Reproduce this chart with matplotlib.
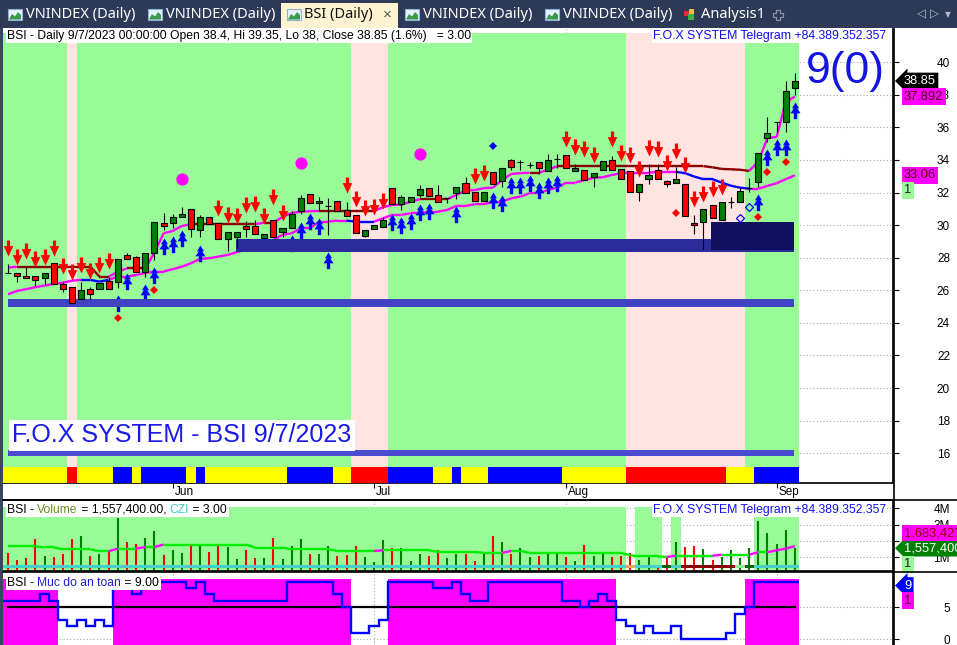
import numpy as np
import matplotlib.pyplot as plt
from matplotlib.patches import Rectangle, Polygon
from matplotlib.path import Path
from matplotlib.collections import LineCollection
from matplotlib.transforms import blended_transform_factory

plt.rcParams['font.family'] = ['Liberation Sans', 'DejaVu Sans']

# daily bars of BSI, 8 May .. 7 Sep 2023 (87 sessions)
opens = [27.08, 27.07, 26.9, 26.9, 26.74, 27.66, 26.37, 26.19, 25.45, 26.07,
         26.07, 26.56, 26.5, 28.15, 28.03, 27.11, 28.27, 30.12, 30.12, 30.48,
         30.98, 29.7, 30.52, 30.12, 29.13, 29.26, 29.95, 29.95, 29.2, 30.32,
         29.6, 29.81, 30.89, 31.9, 31.34, 31.15, 31.47, 30.93, 30.61, 29.36,
         29.75, 29.9, 32.27, 31.28, 31.44, 31.85, 32.28, 31.85, 31.68, 32.0,
         32.59, 32.02, 31.5, 33.25, 32.73, 33.98, 33.86, 33.69, 33.86, 33.35,
         34.05, 34.29, 33.35, 33.37, 32.98, 33.41, 34.0, 33.43, 33.33, 32.06,
         32.82, 33.37, 32.69, 32.57, 32.51, 30.15, 30.18, 31.22, 30.3, 31.43,
         31.44, 32.28, 32.67, 35.37, 36.34, 36.35, 38.4]
highs = [27.62, 27.07, 27.43, 26.9, 27.08, 27.66, 26.53, 26.19, 26.53, 26.22,
         26.43, 26.84, 27.91, 28.27, 28.09, 28.27, 30.18, 30.73, 30.67, 31.1,
         30.98, 30.64, 30.52, 30.12, 29.6, 29.57, 30.26, 30.32, 29.44, 30.32,
         29.81, 30.87, 31.85, 31.9, 31.71, 31.65, 31.47, 31.42, 30.61, 29.69,
         30.0, 30.49, 32.27, 31.84, 31.71, 32.47, 32.28, 32.47, 31.69, 32.33,
         32.94, 32.02, 32.02, 33.25, 33.49, 34.06, 34.0, 33.9, 33.86, 34.35,
         34.37, 34.29, 33.74, 33.37, 33.19, 33.92, 34.25, 33.43, 33.33, 32.51,
         33.74, 33.74, 32.78, 33.59, 32.51, 30.63, 30.98, 31.22, 31.41, 31.73,
         32.3, 32.92, 34.41, 36.62, 36.35, 38.85, 39.35]
lows = [27.05, 26.53, 26.74, 26.27, 26.33, 26.41, 25.9, 25.2, 25.45, 25.45,
        26.07, 26.07, 26.16, 27.91, 27.11, 26.84, 27.86, 29.7, 29.81, 30.48,
        29.27, 29.3, 30.06, 29.13, 28.43, 28.58, 29.26, 29.44, 29.2, 29.26,
        29.26, 29.81, 30.69, 31.34, 30.87, 29.4, 30.89, 30.58, 29.5, 29.26,
        29.75, 29.9, 31.28, 30.93, 31.44, 31.75, 31.81, 31.41, 31.34, 31.6,
        32.0, 31.5, 31.5, 32.53, 32.33, 33.41, 33.41, 33.5, 33.14, 33.35,
        33.5, 33.53, 33.35, 32.77, 32.36, 33.41, 33.39, 32.82, 32.02, 31.49,
        32.51, 32.82, 32.33, 32.57, 30.55, 29.44, 28.56, 30.42, 30.3, 31.04,
        31.44, 32.05, 32.36, 35.13, 35.74, 35.74, 38.0]
closes = [27.06, 26.9, 26.74, 26.64, 27.08, 26.41, 26.06, 25.2, 26.02, 25.76,
          26.43, 26.07, 27.91, 27.91, 27.11, 28.27, 30.18, 29.93, 30.48, 30.67,
          29.75, 30.52, 30.06, 29.13, 29.6, 29.57, 29.79, 29.44, 29.44, 29.26,
          29.81, 30.67, 31.65, 31.34, 31.49, 31.16, 30.89, 30.58, 29.5, 29.69,
          30.0, 30.32, 31.28, 31.71, 31.71, 32.22, 31.81, 31.41, 31.69, 32.33,
          32.0, 31.5, 32.02, 32.53, 33.49, 33.59, 33.87, 33.7, 33.49, 33.98,
          34.06, 33.53, 33.5, 32.77, 33.19, 33.92, 33.39, 32.82, 32.02, 32.51,
          33.06, 32.82, 32.51, 32.82, 30.55, 30.0, 30.98, 30.42, 31.41, 31.44,
          32.1, 32.3, 34.41, 35.66, 36.35, 38.24, 38.85]

trend_line = [27.39] + [27.45] * 9 + [26.84, 26.84, 27.13, 27.35, 27.35, 27.35,
              28.3, 29.5, 29.64, 29.95] + [30.06] * 8 + [30.15, 30.15, 30.5, 30.75,
              30.83, 30.85, 30.87] + [30.87] * 6 + [31.1, 31.24, 31.26, 31.44, 31.59,
              31.59, 31.59, 31.59, 31.85, 32.12, 32.15, 32.27, 32.3, 32.77, 33.14,
              33.19, 33.22, 33.22, 33.39, 33.62] + [33.62] * 16 + [33.55, 33.45,
              33.43, 33.4, 33.33, 33.9, 35.35, 35.41, 37.56, 37.892]
stop_line = [25.76, 25.96, 26.07, 26.19, 26.29, 26.39, 26.47, 26.59, 26.64, 26.64,
             26.53, 26.64, 26.84, 26.84, 26.94, 27.06, 27.15, 27.15, 27.3, 27.45,
             27.66, 27.93, 27.97, 28.07, 28.17, 28.34, 28.5, 28.7, 28.9, 29.1,
             29.4, 29.5, 29.81, 29.81, 30.21, 30.21, 30.28, 30.28, 30.21, 30.21,
             30.21, 30.42, 30.63, 30.63, 30.73, 30.73, 30.83, 30.83, 30.93, 31.18,
             31.18, 31.28, 31.28, 31.44, 31.44, 31.65, 31.75, 31.96, 31.96, 32.16,
             32.3, 32.61, 32.61, 32.77, 32.9, 32.94, 33.08, 33.19, 33.22, 33.22,
             33.22, 33.27, 33.27, 33.27, 33.19, 32.98, 32.82, 32.82, 32.61, 32.42,
             32.3, 32.24, 32.24, 32.41, 32.57, 32.82, 33.06]
stop_blue = [9, 10, 11, 38, 39, 40, 74, 75, 76, 77, 78, 79, 80, 81]

sell_idx = [0, 1, 2, 3, 4, 5, 6, 7, 8, 9, 10, 11, 23, 24, 25, 26, 27, 28, 29, 30,
            37, 38, 39, 40, 41, 51, 52, 61, 62, 63, 64, 66, 67, 68, 69, 70, 71, 72,
            73, 74, 75, 76, 77, 78]
sell_price = [28.11, 27.56, 27.93, 27.43, 27.56, 28.11, 27.0, 26.63, 27.06, 26.7,
              27.06, 27.31, 30.56, 30.12, 30.07, 30.75, 30.79, 30.06, 31.24, 30.28,
              31.95, 31.09, 30.56, 30.6, 31.0, 32.53, 32.73, 34.77, 34.28, 34.17,
              33.8, 34.78, 33.94, 33.8, 32.98, 34.27, 34.2, 33.33, 34.08, 33.19,
              31.14, 31.44, 31.71, 31.85]
buy_idx = [12, 13, 15, 16, 17, 18, 19, 21, 31, 32, 33, 34, 35, 42, 43, 44, 45, 46,
           49, 53, 54, 55, 56, 57, 58, 59, 60, 82, 83, 84, 85, 86]
buy_price = [25.71, 27.05, 26.39, 27.42, 29.23, 29.34, 29.71, 28.75, 29.4, 30.21,
             30.73, 30.46, 28.35, 30.69, 30.5, 30.75, 31.3, 31.36, 31.18, 32.03,
             31.85, 32.96, 32.96, 33.08, 32.65, 32.96, 33.08, 31.9, 34.66, 35.29,
             35.29, 37.54]
red_dot_idx = [12, 16, 73, 82, 83, 85]
red_dot_price = [24.32, 26.0, 30.77, 30.52, 33.28, 33.9]
hollow_idx = [80, 81]
hollow_price = [30.46, 31.14]
blue_dot_idx = [53]
blue_dot_price = [34.88]
circle_idx = [19, 32, 45]
circle_price = [32.84, 33.8, 34.35]

pink_zones = [(7, 7), (38, 41), (68, 80)]
strip_runs = [(0, 6, 'y'), (7, 7, 'r'), (8, 11, 'y'), (12, 13, 'b'), (14, 14, 'y'),
              (15, 19, 'b'), (20, 20, 'y'), (21, 21, 'b'), (22, 30, 'y'), (31, 35, 'b'),
              (36, 37, 'y'), (38, 41, 'r'), (42, 46, 'b'), (47, 48, 'y'), (49, 49, 'b'),
              (50, 52, 'y'), (53, 60, 'b'), (61, 67, 'y'), (68, 78, 'r'), (79, 81, 'y'),
              (82, 86, 'b')]

# volume in millions
volume = [1.29, 0.82, 0.98, 2.14, 1.1, 1.04, 1.18, 2.1, 2.29, 1.08, 1.18, 1.33,
          3.43, 1.94, 1.8, 2.2, 2.59, 1.16, 1.43, 1.24, 1.84, 1.67, 1.31, 1.78,
          1.63, 0.88, 1.43, 0.98, 0.94, 2.2, 0.88, 1.67, 2.1, 1.22, 1.22, 1.71,
          1.08, 1.12, 1.67, 1.02, 0.69, 2.04, 1.59, 1.59, 0.76, 1.22, 1.08, 1.47,
          0.98, 1.22, 1.22, 0.76, 1.22, 2.29, 1.94, 1.22, 1.59, 1.02, 1.08, 1.33,
          1.33, 1.02, 0.76, 1.73, 1.08, 1.33, 1.02, 1.08, 1.29, 0.82, 1.12, 0.5,
          0.98, 1.94, 1.63, 1.67, 1.49, 0.82, 1.02, 1.43, 0.96, 1.59, 3.2, 2.49,
          1.84, 2.7, 1.5574]
vol_ma = ([1.67] * 4 + [1.6] * 2 + [1.49] * 4 + [1.37] * 2 + [1.53] * 3 + [1.63] * 2
          + [1.78] * 10 + [1.59] * 4 + [1.49] * 5 + [1.39] * 5 + [1.43] * 6
          + [1.33] * 5 + [1.27] * 3 + [1.39] * 2 + [1.27] * 11 + [1.12] + [1.06] * 3
          + [1.02] + [1.1] * 5 + [1.16] * 4 + [1.31] * 2 + [1.43, 1.53, 1.683])
vol_bg = [4.06] * 68 + [0] + [4.06] * 3 + [0] + [3.45] + [0] * 8 + [3.45] * 5
strip_special = {68: '#f4a460', 72: '#006400', 74: '#8b0000', 75: '#8b0000',
                 76: '#8b0000', 77: '#8b0000', 78: '#8b0000', 79: '#8b0000',
                 80: '#90ee90', 81: '#006400'}

safety = ([6, 6, 6, 6, 7, 6, 3, 2, 3, 2, 3, 2, 9, 9, 7, 9, 9, 9, 9, 9, 8, 9, 7]
          + [6] * 8 + [9] * 5 + [7, 5, 1, 1, 2, 3] + [9] * 5 + [8, 8, 9, 7, 6, 6]
          + [9] * 8 + [6, 6, 5, 6, 7, 6, 3, 2, 1, 2, 1, 1, 2, 0, 0, 0, 0, 0, 1, 4, 5]
          + [9] * 5)

month_idx = [18, 40, 61, 84]
month_names = ['Jun', 'Jul', 'Aug', 'Sep']
price_ticks = list(range(16, 41, 2))

W, H = 957, 645
n = len(closes)
x = np.arange(n)
o = np.array(opens)
c = np.array(closes)


def box(x0, y0, x1, y1):
    return [x0 / W, 1 - y1 / H, (x1 - x0) / W, (y1 - y0) / H]


fig = plt.figure(figsize=(W / 100, H / 100), dpi=100)
ax = fig.add_axes(box(3, 29, 893, 483))
axv = fig.add_axes(box(3, 500, 893, 571))
axs = fig.add_axes(box(3, 572, 893, 645))
xlo, xhi = -0.546, 96.72

for a in (ax, axv, axs):
    a.set_xlim(xlo, xhi)
    a.set_axisbelow(True)
    a.spines['left'].set_visible(False)
    a.spines['top'].set_visible(False)
    a.spines['right'].set_linewidth(1.2)
    a.yaxis.tick_right()
    a.tick_params(axis='y', direction='out', length=4.3, width=0.8, pad=36.7, labelsize=8.5)
    a.set_xticks(month_idx)
    a.tick_params(axis='x', length=0, labelbottom=False)
    a.grid(color='#a8a8a8', ls=(0, (1, 2)), lw=0.8)

# ---------- price panel ----------
ax.set_ylim(14.17, 42.04)
ax.set_yticks(price_ticks)
ax.tick_params(axis='x', length=3.6, direction='out')
ax.spines['bottom'].set_linewidth(1.2)

pink = np.zeros(n, bool)
for a0, a1 in pink_zones:
    pink[a0:a1 + 1] = True
start = 0
for i in range(1, n + 1):
    if i == n or pink[i] != pink[start]:
        left = xlo if start == 0 else start - 0.5
        ax.axvspan(left, i - 0.5, ymax=0.991, color='#ffe4e1' if pink[start] else '#98fb98',
                   lw=0, zorder=0.6)
        start = i

strip_col = {'y': '#ffff00', 'r': '#ff0000', 'b': '#0000ff'}
for s0, s1, k in strip_runs:
    left = xlo if s0 == 0 else s0 - 0.5
    ax.add_patch(Rectangle((left, 14.17), s1 + 0.5 - left, 0.99,
                           color=strip_col[k], lw=0, zorder=5))


def seg_line(axis, xs, ys, colors, lw, z):
    pts = np.column_stack([xs, ys])
    segs = np.stack([pts[:-1], pts[1:]], axis=1)
    axis.add_collection(LineCollection(segs, colors=colors, linewidths=lw,
                                       zorder=z, capstyle='butt'))


up_col = ['#ff00ff' if trend_line[i] > trend_line[i - 1] else '#8b0000'
          for i in range(1, n)]
seg_line(ax, x, trend_line, up_col, 1.7, 1.5)
lo_col = ['#0000ff' if i in stop_blue else '#ff00ff' for i in range(1, n)]
seg_line(ax, x, stop_line, lo_col, 1.7, 1.5)

down_arrow = Path([(0, 0), (0.6, 1.3), (0.2, 1.3), (0.2, 2.0), (-0.2, 2.0),
                   (-0.2, 1.3), (-0.6, 1.3), (0, 0)])
up_arrow = Path([(0, 0), (0.42, -0.7), (0.2, -0.7), (0.6, -1.3), (0.2, -1.3),
                 (0.2, -2.0), (-0.2, -2.0), (-0.2, -1.3), (-0.6, -1.3),
                 (-0.2, -0.7), (-0.42, -0.7), (0, 0)])
ax.plot(sell_idx, sell_price, ls='none', marker=down_arrow, ms=23,
        color='#ff0000', mew=0, zorder=2)
ax.plot(buy_idx, buy_price, ls='none', marker=up_arrow, ms=24,
        color='#0000ff', mew=0, zorder=2)

ax.add_patch(Rectangle((0, 25.0), 85.9, 0.47, color='#4242c4', lw=0, zorder=3))
ax.add_patch(Rectangle((24.9, 28.37), 61.0, 0.78, color='#2b2b9b', lw=0, zorder=3))
ax.add_patch(Rectangle((76.85, 28.48), 9.05, 1.72, color='#10105e', lw=0, zorder=3.1))
ax.add_patch(Rectangle((0, 15.83), 85.9, 0.34, color='#4b4bd2', lw=0, zorder=3))

ax.vlines(x, lows, highs, color='black', lw=0.8, zorder=4)
ax.bar(x, np.maximum(np.abs(c - o), 0.012), bottom=np.minimum(o, c), width=0.66,
       color=np.where(c >= o, '#008000', '#ff0000'), edgecolor='black', lw=0.8,
       zorder=4.1)

ax.plot(red_dot_idx, red_dot_price, ls='none', marker='D', ms=4, color='#ff0000',
        mew=0, zorder=5)
ax.plot(hollow_idx, hollow_price, ls='none', marker='D', ms=4.5, mfc='none',
        mec='#0000ff', mew=0.9, zorder=5)
ax.plot(blue_dot_idx, blue_dot_price, ls='none', marker='D', ms=4.5,
        color='#0000ff', mew=0, zorder=5)
ax.plot(circle_idx, circle_price, ls='none', marker='o', ms=8.8, color='#ff00ff',
        mew=0, zorder=5)

for mi, name in zip(month_idx, month_names):
    ax.annotate(name, xy=(mi, 0), xycoords=('data', 'axes fraction'),
                xytext=(2, -9), textcoords='offset pixels', ha='left', va='center',
                fontsize=8.5, annotation_clip=False)

# ---------- volume panel ----------
axv.set_ylim(0.16, 4.51)
axv.set_yticks([1, 2, 3, 4])
axv.set_yticklabels(['1M', '2M', '3M', '4M'])
axv.spines['top'].set_visible(True)
axv.spines['top'].set_linewidth(1.2)
axv.spines['bottom'].set_linewidth(1.2)
axv.bar(x, vol_bg, width=1.0, color='#98fb98', lw=0, zorder=0.6)
axv.vlines(x, 0.16, volume, colors=np.where(c >= o, '#008000', '#ff0000'), lw=1.5,
           zorder=2)
axv.bar(x, 0.18, bottom=0.33, width=1.0,
        color=[strip_special.get(i, '#48d1cc') for i in range(n)], lw=0, zorder=3)
ma_col = ['#ff00ff' if vol_ma[i] > vol_ma[i - 1] else '#00ee00' for i in range(1, n)]
seg_line(axv, x, vol_ma, ma_col, 1.7, 4)

# ---------- safety panel ----------
axs.set_ylim(-0.89, 10.48)
axs.set_yticks([0, 5])
axs.spines['bottom'].set_visible(False)
saf = np.array(safety)
axs.bar(x[saf >= 5], 10.27, bottom=-0.89, width=1.0, color='#ff00ff', lw=0, zorder=1)
axs.plot([0, n - 1], [5, 5], color='black', lw=1.6, zorder=2)
axs.stairs(safety, np.arange(n + 1) - 0.5, baseline=None, color='#0000ff', lw=1.7,
           zorder=3)

for a in (ax, axv, axs):
    plt.setp(a.get_yticklabels(), ha='right')


def tag(axis, yval, text, fc, tc, arrow=False, dy=0):
    tr = blended_transform_factory(axis.transAxes, axis.transData)
    style = 'larrow,pad=0.18' if arrow else 'square,pad=0.18'
    axis.annotate(text, xy=(1, yval), xycoords=tr, xytext=(11, dy),
                  textcoords='offset pixels', ha='left', va='center', fontsize=9.3,
                  color=tc, bbox=dict(boxstyle=style, fc=fc, ec='none'),
                  annotation_clip=False, zorder=20)


tag(ax, closes[-1], '38.85', 'black', 'white', arrow=True)
tag(ax, trend_line[-1], '37.892', '#ff00ff', '#4a0010')
tag(ax, stop_line[-1], '33.06', '#ff00ff', '#4a0010')
tag(ax, stop_line[-1], '1', '#98fb98', '#202020', dy=-15)
tag(axv, volume[-1], '1,557,400', '#008000', 'white', arrow=True)
tag(axv, vol_ma[-1], '1,683,427', '#ff00ff', '#8b0000', dy=13)
tag(axv, volume[-1], '1', '#98fb98', '#202020', dy=-16)
tag(axs, safety[-1], '9', '#0000ff', 'white', arrow=True, dy=-4)
tag(axs, safety[-1], '1', '#ff00ff', '#4a0010', dy=-19)

# ---------- overlay: window chrome and captions (pixel coords) ----------
axo = fig.add_axes([0, 0, 1, 1], zorder=10)
axo.set_xlim(0, W)
axo.set_ylim(H, 0)
axo.axis('off')
axo.patch.set_visible(False)

axo.add_patch(Rectangle((0, 0), W, 28, color='#2c3a57', lw=0))
axo.add_patch(Rectangle((0, 28), 2.5, H - 28, color='#3a4660', lw=0))
axo.add_patch(Rectangle((281, 3), 117, 25, color='#fdf3d2', lw=0))
axo.plot([893.5, 893.5], [29, H], color='black', lw=1.2)
axo.plot([3, W], [500, 500], color='black', lw=1.2)
axo.plot([3, W], [571.5, 571.5], color='black', lw=1.2)


def chart_icon(x0):
    axo.add_patch(Rectangle((x0, 9), 14, 11, fc='#e8f2ff', ec='#8fb0d8', lw=0.8))
    axo.add_patch(Polygon([(x0 + 1, 19.5), (x0 + 4, 14), (x0 + 7, 16.5), (x0 + 10, 12),
                           (x0 + 13, 15), (x0 + 13, 19.5)], closed=True,
                          fc='#3a9a4a', ec='none'))


tab_font = dict(fontsize=10.5, va='center', ha='left', family=['Noto Sans', 'DejaVu Sans'])
for tx in (8, 148, 405, 545):
    chart_icon(tx)
    axo.text(tx + 18, 15, 'VNINDEX (Daily)', color='white', **tab_font)
chart_icon(287)
axo.text(304, 15, 'BSI (Daily)', color='#111111', fontweight='bold', **tab_font)
axo.text(383, 14.5, '\u00d7', color='#555555', fontsize=11, va='center', ha='left')
axo.add_patch(Rectangle((684, 11), 5, 5, color='#e03030', lw=0))
axo.add_patch(Rectangle((689, 9), 5, 5, color='#f0c020', lw=0))
axo.add_patch(Rectangle((688, 14), 6, 6, color='#40b040', lw=0))
axo.text(701, 15, 'Analysis1', color='white', **tab_font)
axo.add_patch(Polygon([(776, 10), (780, 10), (780, 13), (783, 13), (783, 17), (780, 17),
                       (780, 20), (776, 20), (776, 17), (773, 17), (773, 13), (776, 13)],
                      closed=True, fc='none', ec='#8a93a6', lw=0.9))
for ax_x, ch in ((921, '\u25c1'), (934, '\u25b7'), (948, '\u25be')):
    axo.text(ax_x, 14, ch, color='#b0b8c8', fontsize=8.5, ha='center', va='center',
             family='DejaVu Sans')

white_box = dict(fc='white', ec='none', pad=1.0)
axo.text(7, 35.5, 'BSI - Daily 9/7/2023 00:00:00 Open 38.4, Hi 39.35, Lo 38, '
         'Close 38.85 (1.6%)   = 3.00', fontsize=8.7, va='center', ha='left',
         bbox=white_box)
axo.text(653, 35.5, 'F.O.X SYSTEM Telegram +84.389.352.357', fontsize=8.8,
         color='#1010e8', va='center', ha='left', bbox=white_box)
axo.text(653, 510, 'F.O.X SYSTEM Telegram +84.389.352.357', fontsize=8.8,
         color='#1010e8', va='center', ha='left', bbox=white_box)
axo.text(806, 72, '9(0)', fontsize=32, color='#1414e0', va='center', ha='left')
axo.text(12, 435, 'F.O.X SYSTEM - BSI 9/7/2023', fontsize=18, color='#1a1ae6',
         va='center', ha='left', bbox=dict(fc='white', ec='none', pad=2.5))

renderer = fig.canvas.get_renderer()


def text_w(s, size):
    t = axo.text(0, 0, s + 'l', fontsize=size)
    t2 = axo.text(0, 0, 'l', fontsize=size)
    w = t.get_window_extent(renderer).width - t2.get_window_extent(renderer).width
    t.remove()
    t2.remove()
    return w


def multi_text(xp, yp, parts, size=8.7):
    total = text_w(''.join(p for p, _ in parts), size)
    axo.add_patch(Rectangle((xp - 1.5, yp - 7), total + 3, 14, color='white', lw=0))
    prefix = ''
    for p, col in parts:
        axo.text(xp + text_w(prefix, size), yp, p, color=col, fontsize=size,
                 va='center', ha='left')
        prefix += p


multi_text(7, 510, [('BSI - ', 'black'), ('Volume', '#6b8e23'),
                    (' = 1,557,400.00, ', 'black'), ('CZI', '#40c8c8'),
                    (' = 3.00', 'black')])
multi_text(7, 583, [('BSI - ', 'black'), ('Muc do an toan', '#1f1fd0'),
                    (' = 9.00', 'black')])

fig.savefig('out.png', dpi=100)
